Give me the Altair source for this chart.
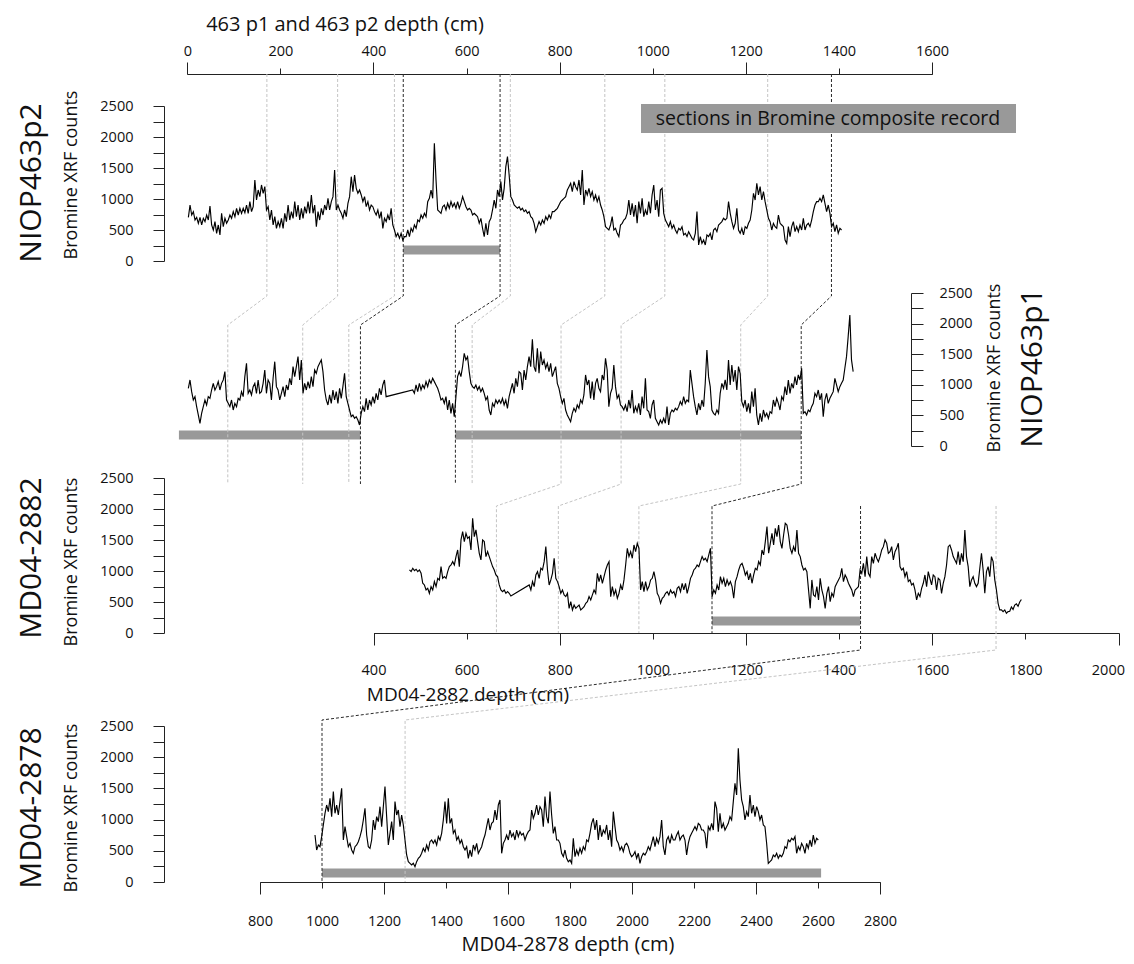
import altair as alt
import pandas as pd

FONT = "Open Sans"
OFF = 8            # page margin: reference pixel -> chart pixel
W, H = 1118, 948

# ---------------- data ----------------
# NIOP463p2 (top panel) - Bromine XRF counts on a regular scan grid (cm)
P2_D0, P2_STEP = 2.3, 3.571
p2_br = [704, 903, 742, 796, 661, 704, 608, 704, 581, 688, 635, 742, 661, 887, 581, 500, 635, 446, 581, 420,
         769, 554, 688, 608, 661, 742, 688, 796, 715, 850, 742, 850, 769, 850, 780, 903, 769, 957, 796, 876,
         1307, 984, 1145, 1038, 1226, 1092, 1199, 823, 876, 661, 823, 581, 715, 527, 635, 554, 688, 527, 769, 635,
         903, 661, 796, 688, 957, 715, 903, 661, 850, 688, 876, 769, 957, 769, 1065, 769, 903, 554, 796, 661,
         850, 742, 903, 823, 1011, 823, 957, 1038, 1468, 823, 903, 823, 769, 688, 823, 715, 930, 1038, 1360, 1118,
         1387, 1172, 1092, 1145, 1065, 957, 1038, 876, 957, 823, 903, 876, 796, 742, 823, 688, 796, 527, 688, 635,
         742, 661, 850, 581, 500, 393, 446, 366, 446, 339, 393, 393, 500, 393, 527, 473, 581, 527, 661, 635,
         742, 688, 769, 715, 957, 1011, 1145, 1011, 1898, 1307, 823, 796, 769, 876, 903, 823, 930, 850, 957, 876,
         930, 850, 957, 850, 930, 1038, 957, 876, 823, 850, 823, 742, 769, 742, 715, 608, 688, 527, 393, 608,
         420, 635, 688, 823, 984, 850, 1145, 1038, 1280, 984, 1172, 1522, 1683, 1387, 1038, 984, 903, 876, 850,
         876, 823, 850, 796, 823, 769, 796, 715, 688, 608, 473, 554, 635, 581, 661, 608, 715, 661, 742, 688,
         796, 796, 823, 850, 903, 957, 984, 1011, 1038, 1145, 1199, 1253, 1118, 1280, 1199, 1145, 1307, 1065, 1468, 903,
         1145, 1065, 1172, 1038, 1118, 984, 1065, 957, 1038, 903, 823, 715, 554, 527, 500, 581, 715, 500, 527, 446,
         393, 581, 608, 661, 688, 769, 984, 742, 930, 715, 903, 608, 957, 769, 1011, 715, 823, 742, 957, 769,
         1065, 1226, 823, 984, 715, 1145, 1172, 769, 661, 608, 554, 635, 527, 581, 500, 446, 527, 500, 554, 420,
         446, 393, 473, 420, 366, 339, 446, 796, 258, 393, 285, 339, 258, 420, 393, 446, 339, 500, 527, 473,
         581, 608, 635, 688, 661, 688, 957, 769, 635, 527, 608, 850, 500, 446, 527, 420, 554, 527, 608, 661,
         823, 1092, 984, 1253, 1065, 1199, 984, 1118, 957, 823, 688, 635, 500, 608, 554, 527, 742, 608, 581, 554,
         339, 285, 554, 393, 554, 635, 473, 554, 473, 581, 500, 688, 500, 581, 608, 554, 661, 796, 903, 957,
         957, 1011, 957, 1065, 930, 796, 903, 769, 554, 608, 473, 581, 446, 527, 500]

# NIOP463p1 (second panel) - two scanned pieces with a gap between them
P1_STEP = 3.571
P1A_D0 = 2.2
p1_br_a = [943, 1079, 888, 752, 806, 643, 507, 371, 534, 643, 752, 670, 806, 779, 915, 1024, 915, 970, 1052, 915,
           1024, 1079, 1215, 752, 697, 643, 752, 588, 697, 643, 779, 752, 888, 806, 1133, 1351, 861, 915, 834, 970,
           1024, 861, 1079, 861, 888, 1024, 1242, 861, 1079, 1024, 752, 1106, 1378, 970, 915, 752, 861, 970, 806, 997,
           915, 1106, 997, 1297, 1133, 1297, 1460, 1079, 1406, 861, 1024, 915, 1052, 943, 1133, 970, 1242, 1188, 1297, 1351,
           1406, 1215, 915, 752, 670, 834, 697, 915, 752, 888, 697, 943, 779, 970, 1188, 806, 697, 588, 480, 507,
           452, 480, 425, 343, 534, 643, 561, 779, 588, 752, 670, 806, 697, 861, 752, 943, 834, 997, 1079, 806]
P1B_D0 = 484.3
p1_br_b = [915, 861, 997, 888, 1024, 915, 997, 943, 1052, 970, 1079, 1024, 1106, 1052, 997, 943, 861, 752, 779, 697,
           806, 588, 752, 534, 697, 480, 806, 1133, 1215, 1133, 1297, 1515, 1406, 1460, 1215, 1024, 970, 943, 997, 915,
           970, 888, 943, 861, 752, 806, 588, 507, 697, 643, 752, 697,
           752, 697, 779, 670, 752, 616, 806, 915, 1024, 861, 1106, 970, 1215, 1188, 915, 1242, 1079, 1297, 1460, 1297,
           1743, 1297, 1215, 1596, 1188, 1542, 1324, 1406, 1270, 1351, 1215, 1351, 1133, 1215, 1297, 1024, 943, 806, 697, 779,
           588, 507, 452, 398, 534, 616, 561, 670, 616, 752, 697, 834, 1161, 997, 1079, 779, 1052, 752, 1024, 1106,
           943, 888, 1161, 1079, 1433, 1242, 643, 861, 943, 1324, 970, 779, 834, 670, 643, 588, 670, 561, 752, 616,
           915, 534, 643, 561, 697, 507, 806, 616, 1106, 588, 561, 452, 670, 752, 452, 398, 343, 425, 371, 452,
           371, 643, 343, 534, 588, 561, 616, 588, 643, 725, 670, 806, 697, 752, 725, 1242, 1024, 806, 643, 507,
           697, 588, 752, 643, 1024, 1569, 1133, 970, 588, 534, 507, 588, 534, 861, 1024, 943, 1079, 915, 1406, 997,
           1324, 1052, 1242, 915, 1297, 1188, 725, 643, 752, 561, 697, 534, 888, 643, 943, 507, 343, 534, 398, 588,
           480, 534, 452, 561, 534, 752, 643, 779, 697, 588, 806, 752, 970, 834, 1079, 861, 1024, 943, 1133, 997,
           1161, 1079, 1270, 534, 561, 507, 588, 561, 643, 697, 861, 806, 915, 752, 861, 480, 752, 861, 697, 779,
           834, 888, 1106, 997, 888, 970, 1024, 1079, 1270, 1460, 1787, 2141, 1406, 1215]

# MD04-2882 (third panel) - two pieces with a gap
MD82_STEP = 3.571
MD82A_D0 = 477.2
md82_br_a = [1017, 990, 1044, 1006, 1028, 990, 1017, 963, 802, 775, 694, 721, 640, 748, 694, 829, 748, 882, 856, 1071,
             882, 909, 882, 990, 1071, 1097, 1151, 1097, 1232, 1339, 1071, 1501, 1635, 1474, 1608, 1527, 1554, 1339, 1850, 1554,
             1662, 1474, 1286, 1178, 1501, 1474, 1232, 1312, 1232, 1151, 1071, 1017, 936, 909, 775, 694, 667, 694, 640, 667,
             640, 597]
MD82B_D0 = 734.4
md82_br_b = [775, 694, 829, 748, 936, 990, 882, 1044, 1017, 1151, 1393, 1017, 775, 856, 963, 1205, 882, 829, 748, 640,
             694, 614, 587, 640, 398, 506, 372, 452, 398, 425, 452, 372, 398, 425, 479, 506, 587, 533, 614, 694,
             640, 963, 829, 936, 802, 909, 1017, 1097, 1151, 587, 748, 614, 694, 560, 640, 775, 694, 856, 1097, 1366,
             1232, 1312, 1205, 1420, 1312, 1447, 1366, 694, 829, 667, 829, 694, 748, 856, 882, 990, 856, 640, 587, 479,
             560, 587, 640, 667, 614, 694, 640, 667, 587, 721, 748, 667, 802, 694, 802, 640,
             748, 882, 936, 1017, 1044, 1097, 1071, 1151, 1232, 1178, 1205, 1151, 1259, 1366, 587, 694, 640, 775, 694, 909,
             802, 882, 748, 856, 775, 829, 748, 560, 829, 909, 1017, 1097, 1124, 1044, 936, 990, 856, 963, 802, 936,
             1044, 1017, 1151, 1097, 1339, 1259, 1474, 1716, 1286, 1447, 1608, 1420, 1689, 1554, 1742, 1474, 1366, 1581, 1769, 1742,
             1581, 1366, 1286, 1393, 1312, 1662, 1286, 1232, 1097, 1017, 1044, 990, 694, 398, 856, 614, 587, 748, 533, 882,
             694, 587, 398, 640, 748, 506, 640, 587, 748, 802, 856, 909, 1044, 829, 936, 882, 802, 748, 694, 587,
             694, 721, 748, 1017, 963, 1124, 909, 1232, 963, 909, 1232, 1124, 1286, 1205, 1151, 1232, 1339, 1393, 1501, 1447,
             1286, 1312, 1393, 1178, 1312, 1366, 1447, 1071, 1017, 1044, 909, 990, 829, 856, 775, 802, 694, 533, 640, 587,
             721, 802, 936, 748, 990, 882, 775, 936, 909, 694, 882, 856, 640, 802, 909, 1097, 1393, 1420, 1339, 1232,
             1178, 1124, 1312, 1097, 1286, 1151, 1662, 1232, 1071, 748, 856, 909, 802, 748, 802, 1044, 1286, 1017, 640, 990,
             1071, 909, 1232, 1151, 856, 694, 479, 372, 372, 345, 372, 318, 345, 350, 420, 380, 450, 470, 430, 500,
             540]

# MD04-2878 (bottom panel)
MD78_D0, MD78_STEP = 977.4, 5.376
md78_br = [753, 513, 593, 566, 727, 914, 1101, 1234, 1127, 1341, 1047, 1448, 1101, 1234, 1074, 1288, 1501, 673, 887, 727,
           566, 620, 513, 460, 566, 593, 646, 727, 833, 994, 1181, 753, 566, 540, 673, 994, 833, 1047, 967, 1207,
           887, 1207, 1528, 1047, 593, 780, 967, 673, 1288, 1074, 1154, 887, 1074, 914, 673, 433, 326, 299, 272, 299,
           246, 326, 379, 406, 460, 540, 486, 593, 513, 646, 673, 620, 673, 593, 727, 673, 780, 994, 1288, 940,
           1341, 940, 1020, 780, 833, 673, 727, 620, 673, 566, 513, 566, 379, 513, 406, 593, 513, 620, 460, 513,
           566, 673, 753, 887, 1020, 833, 940, 967, 1154, 994, 1234, 1314, 460, 620, 673, 753, 673, 833, 727, 780,
           673, 833, 727, 807, 753, 780, 673, 753, 807, 833, 1154, 1020, 1101, 1234, 1074, 1207, 1154, 887, 1368, 1047,
           940, 1448, 1074, 780, 887, 673, 673,
           620, 460, 406, 513, 379, 326, 353, 299, 700, 406, 513, 433, 540, 460, 566, 513, 673, 646, 780, 940,
           1020, 833, 994, 673, 914, 727, 833, 780, 914, 673, 833, 566, 1127, 887, 673, 620, 513, 566, 486, 593,
           620, 566, 460, 406, 433, 486, 379, 460, 299, 406, 460, 433, 486, 566, 513, 620, 727, 566, 700, 620,
           727, 994, 566, 433, 673, 727, 620, 753, 673, 673, 753, 807, 673, 727, 753, 673, 433, 620, 727, 780,
           833, 887, 833, 940, 914, 833, 833, 780, 540, 887, 833, 940, 833, 1288, 1181, 807, 1101, 860, 940, 833,
           887, 940, 1047, 994, 1288, 1581, 1394, 2142, 1635, 1314, 1207, 994, 1127, 1047, 1394, 1101, 1234, 1047, 1207, 1127,
           994, 1074, 914, 887, 620, 299, 326, 353, 433, 406, 460, 379, 433, 406, 460, 566, 540, 673, 646, 700,
           673, 727, 460, 566, 513, 620, 566, 460, 620, 540, 673, 566, 753, 620, 700, 673]

# sections used in the Bromine composite record (depth from, depth to)
sec_p2 = {"d_from": [464], "d_to": [672]}
sec_p1 = {"d_from": [-18, 576], "d_to": [372, 1319]}
sec_82 = {"d_from": [1127], "d_to": [1446]}
sec_78 = {"d_from": [1000], "d_to": [2610]}

# tie points between cores (depths, cm)
tie_p2 = [171, 323, 445, 464, 672, 694, 897, 1026, 1247, 1384]
tie_p1 = [87, 248, 347, 372, 576, 612, 803, 932, 1189, 1319]
tie_12_kind = ["light", "light", "light", "black", "black", "light", "light", "light", "light", "black"]
tie_p1_to_82 = {803: 664, 932: 797, 1189: 970, 1319: 1127}
tie_82 = [1446, 1737]
tie_78 = [1000, 1268]
tie_34_kind = ["black", "light"]

# ---------------- layout ----------------
def c(v):
    return v - OFF

X_TOP = {"domain": [0, 1600], "range": [c(187.3), c(932.0)]}
X_82 = {"domain": [400, 2000], "range": [c(373.5), c(1118.5)]}
X_78 = {"domain": [800, 2800], "range": [c(260), c(880)]}
Y_P2 = [c(261), c(106)]
Y_P1 = [c(446), c(293)]
Y_82 = [c(633), c(478)]
Y_78 = [c(882), c(726)]

AX = dict(grid=False, title=None, labelFont=FONT, labelFontSize=14.5, labelColor="#111",
          domainColor="#222", tickColor="#222", labelOverlap=False, labelFlush=False)
YVALS = list(range(0, 2501, 250))
YLAB = "datum.value % 500 == 0 ? datum.label : ''"


def px(scale, d):
    d0, d1 = scale["domain"]
    r0, r1 = scale["range"]
    return r0 + (d - d0) * (r1 - r0) / (d1 - d0)


def series(parts):
    rows = []
    for d0, step, vals in parts:
        for i, v in enumerate(vals):
            rows.append({"depth": round(d0 + step * i, 2), "br": v})
    return pd.DataFrame(rows)


def xscale(s):
    return alt.Scale(domain=s["domain"], range=s["range"], nice=False, zero=False)


def yscale(r):
    return alt.Scale(domain=[0, 2500], range=r, nice=False, zero=False)


def curve(df, xs, yr, xaxis, yaxis):
    return alt.Chart(df).mark_line(color="black", strokeWidth=1.15).encode(
        x=alt.X("depth:Q", scale=xscale(xs), axis=xaxis),
        y=alt.Y("br:Q", scale=yscale(yr), axis=yaxis),
    )


def bars(sec, xs, yc, xaxis=None):
    return alt.Chart(pd.DataFrame(sec)).mark_rect(color="#999999").encode(
        x=alt.X("d_from:Q", scale=xscale(xs), axis=xaxis),
        x2="d_to:Q",
        y=alt.value(c(yc - 4.5)),
        y2=alt.value(c(yc + 4.5)),
    )


def text(s, x, y, size, angle=0, color="#111"):
    return alt.Chart(pd.DataFrame({"t": [s]})).mark_text(
        font=FONT, fontSize=size, angle=angle, align="center", baseline="middle", color=color
    ).encode(x=alt.value(c(x)), y=alt.value(c(y)), text="t:N")


# tie lines in chart pixels, positions come from the same scale mappings
tie_rows = []
for i, (a, b) in enumerate(zip(tie_p2, tie_p1)):
    pts = [(px(X_TOP, a), 74), (px(X_TOP, a), 296), (px(X_TOP, b), 325), (px(X_TOP, b), 484)]
    if b in tie_p1_to_82:
        m = tie_p1_to_82[b]
        pts += [(px(X_82, m), 506), (px(X_82, m), 633)]
    for k, (x, y) in enumerate(pts):
        tie_rows.append({"id": f"a{i}", "seq": k, "x": x, "y": c(y), "kind": tie_12_kind[i]})
for i, (a, b) in enumerate(zip(tie_82, tie_78)):
    pts = [(px(X_82, a), 506), (px(X_82, a), 650), (px(X_78, b), 720), (px(X_78, b), 882)]
    for k, (x, y) in enumerate(pts):
        tie_rows.append({"id": f"b{i}", "seq": k, "x": x, "y": c(y), "kind": tie_34_kind[i]})
ties = pd.DataFrame(tie_rows)

canvas_x = alt.Scale(domain=[0, W], range=[0, W], nice=False, zero=False)
canvas_y = alt.Scale(domain=[0, H], range=[0, H], nice=False, zero=False)


def tie_layer(kind, color):
    return alt.Chart(ties).transform_filter(alt.datum.kind == kind).mark_line(
        color=color, strokeWidth=1, strokeDash=[3, 2]
    ).encode(
        x=alt.X("x:Q", scale=canvas_x, axis=None),
        y=alt.Y("y:Q", scale=canvas_y, axis=None),
        detail="id:N",
        order="seq:Q",
    )


df_p2 = series([(P2_D0, P2_STEP, p2_br)])
df_p1 = series([(P1A_D0, P1_STEP, p1_br_a), (P1B_D0, P1_STEP, p1_br_b)])
df_82 = series([(MD82A_D0, MD82_STEP, md82_br_a), (MD82B_D0, MD82_STEP, md82_br_b)])
df_78 = series([(MD78_D0, MD78_STEP, md78_br)])

ax_top = alt.Axis(orient="top", offset=-c(74), values=list(range(0, 1601, 200)), format="d",
                  tickSize=6, labelPadding=10, **AX)
ax_top_long = alt.Axis(orient="top", offset=-c(74), values=list(range(0, 1601, 400)), tickSize=12,
                       labels=False, domain=False, grid=False, title=None, tickColor="#222")
ax_82 = alt.Axis(orient="bottom", offset=c(633) - H, values=list(range(400, 2001, 200)), format="d",
                 tickSize=6, labelPadding=24,
                 labelAlign=alt.ExprRef(expr="datum.value == 2000 ? 'right' : 'center'"),
                 labelOffset=alt.ExprRef(expr="datum.value == 2000 ? 6 : 0"), **AX)
ax_82_long = alt.Axis(orient="bottom", offset=c(633) - H, values=list(range(400, 2001, 400)), tickSize=12,
                      labels=False, domain=False, grid=False, title=None, tickColor="#222")
ax_78 = alt.Axis(orient="bottom", offset=c(882) - H, values=list(range(800, 2801, 200)), format="d",
                 tickSize=6, labelPadding=26, **AX)
ax_78_long = alt.Axis(orient="bottom", offset=c(882) - H, values=list(range(800, 2801, 400)), tickSize=12,
                      labels=False, domain=False, grid=False, title=None, tickColor="#222")


def yleft():
    return alt.Axis(orient="left", offset=-c(164), values=YVALS, labelExpr=YLAB, format="d",
                    tickSize=11, labelPadding=20, **AX)


y_right = alt.Axis(orient="right", offset=c(911) - W, values=YVALS, labelExpr=YLAB, format="d",
                   tickSize=12, labelPadding=16, **AX)

legend_box = alt.Chart(pd.DataFrame({"k": [0]})).mark_rect(color="#999999").encode(
    x=alt.value(c(641)), x2=alt.value(c(1016)), y=alt.value(c(104)), y2=alt.value(c(133))
)

layers = [
    bars(sec_p2, X_TOP, 250, ax_top_long),
    bars(sec_p1, X_TOP, 435),
    bars(sec_82, X_82, 621, ax_82_long),
    bars(sec_78, X_78, 873, ax_78_long),
    tie_layer("light", "#c4c4c4"),
    tie_layer("black", "#2a2a2a"),
    curve(df_p2, X_TOP, Y_P2, ax_top, yleft()),
    curve(df_p1, X_TOP, Y_P1, None, y_right),
    curve(df_82, X_82, Y_82, ax_82, yleft()),
    curve(df_78, X_78, Y_78, ax_78, yleft()),
    legend_box,
    text("sections in Bromine composite record", 828, 119, 19.5),
    text("463 p1 and 463 p2 depth (cm)", 345, 25, 20),
    text("MD04-2882 depth (cm)", 468, 695, 19),
    text("MD04-2878 depth (cm)", 568, 945, 20),
    text("Bromine XRF counts", 72, 175, 18, angle=270),
    text("Bromine XRF counts", 72, 562, 18, angle=270),
    text("Bromine XRF counts", 72, 808, 18, angle=270),
    text("Bromine XRF counts", 995, 368, 18, angle=270),
    text("NIOP463p2", 32, 183, 30, angle=270),
    text("NIOP463p1", 1033, 368, 30, angle=270),
    text("MD04-2882", 32, 558, 30, angle=270),
    text("MD04-2878", 32, 808, 30, angle=270),
]

chart = alt.layer(*layers).resolve_scale(x="independent", y="independent").properties(
    width=W, height=H, autosize=alt.AutoSizeParams(type="none"), padding=0, background="white"
).configure_view(stroke=None)

chart.save("out.html", embed_options={"renderer": "svg", "actions": False})
